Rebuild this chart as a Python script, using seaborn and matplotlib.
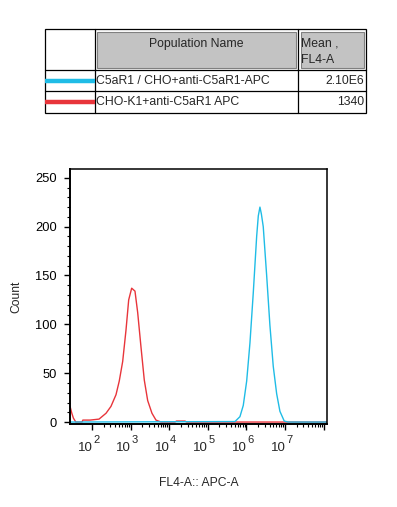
import numpy as np
import seaborn as sns
import matplotlib.pyplot as plt
import matplotlib.transforms as mtransforms
from matplotlib.patches import Rectangle
from matplotlib.ticker import FixedLocator, NullFormatter, MultipleLocator


# Values (FL4-A intensity, count)

red_fl4 = [27, 30, 33, 38, 55, 58, 89, 152, 231, 310, 419, 509, 624, 760,
           893, 1067, 1300, 1528, 1858, 2265, 2773, 3581, 4550, 6138,
           14100, 15500, 25700, 28200, 1.23e8]
red_count = [16, 9, 4, 0, 0, 2, 2, 3, 9, 16, 28, 42, 62, 94,
             125, 137, 134, 112, 77, 43, 22, 9, 2, 0,
             0, 1, 1, 0, 0]

blue_fl4 = [27, 5.07e5, 6.82e5, 8.32e5, 1.02e6, 1.24e6, 1.51e6, 1.85e6,
            2.04e6, 2.25e6, 2.45e6, 2.74e6, 3.36e6, 4.08e6, 4.98e6, 6.10e6,
            7.41e6, 9.59e6, 1.22e7, 1.23e8]
blue_count = [0, 0.5, 5.5, 17, 42, 81, 132, 190,
              211, 220, 213, 200, 150, 99, 57, 29,
              11, 1, 0, 0]

x_ticks = [1e2, 1e3, 1e4, 1e5, 1e6, 1e7]
x_tick_base = "10"
x_tick_exp = ["2", "3", "4", "5", "6", "7"]

# Legend table text
table_header = ["Population Name", "Mean ,\nFL4-A"]
pop_names = ["C5aR1 / CHO+anti-C5aR1-APC", "CHO-K1+anti-C5aR1 APC"]
pop_means = ["2.10E6", "1340"]

blue = "#1fbce6"
red = "#e8353b"
pop_colors = [blue, red]

sns.set_style("ticks")
plt.rcParams['font.family'] = ['Liberation Sans', 'DejaVu Sans']

fig = plt.figure(figsize=(3.97, 5.07), dpi=100)
ax = fig.add_axes([70 / 397, 83 / 507, 257 / 397, 255 / 507])

sns.lineplot(x=red_fl4, y=red_count, ax=ax, color=red, lw=1.0,
             estimator=None, sort=False)
sns.lineplot(x=blue_fl4, y=blue_count, ax=ax, color=blue, lw=1.0,
             estimator=None, sort=False)

ax.set_xscale('log')
ax.set_xlim(10 ** 1.43, 10 ** 8.09)
ax.set_ylim(-2, 259)

ax.xaxis.set_major_locator(FixedLocator(x_ticks + [1e8]))
ax.xaxis.set_major_formatter(NullFormatter())
minors = [m * 10 ** d for d in range(2, 8) for m in range(2, 10)]
ax.xaxis.set_minor_locator(FixedLocator(minors))
ax.xaxis.set_minor_formatter(NullFormatter())
ax.yaxis.set_major_locator(MultipleLocator(50))
ax.yaxis.set_minor_locator(MultipleLocator(10))

ax.tick_params(axis='both', which='major', direction='out', length=4.5,
               width=1.0, colors='black', labelsize=9.3, pad=5)
ax.tick_params(axis='both', which='minor', direction='out', length=2.5,
               width=0.8, colors='black')

# "10" with a high superscript, like the cytometer software draws it
base_tr = mtransforms.blended_transform_factory(ax.transData, ax.transAxes)
for t, e in zip(x_ticks, x_tick_exp):
    tr1 = mtransforms.offset_copy(base_tr, fig=fig, x=0.5, y=-27,
                                  units='dots')
    ax.text(t, 0, x_tick_base, transform=tr1, ha='right', va='baseline',
            fontsize=9.5)
    tr2 = mtransforms.offset_copy(base_tr, fig=fig, x=1, y=-19,
                                  units='dots')
    ax.text(t, 0, e, transform=tr2, ha='left', va='baseline', fontsize=8)

for side in ['left', 'bottom', 'top', 'right']:
    ax.spines[side].set_visible(True)
    ax.spines[side].set_color('black')
    ax.spines[side].set_linewidth(1.1)
ax.spines['left'].set_linewidth(1.4)
ax.spines['bottom'].set_linewidth(1.4)

ax.set_xlabel("FL4-A:: APC-A", fontsize=8.7, va='center')
ax.xaxis.set_label_coords(0.5, -0.231)
ax.set_ylabel("Count", fontsize=8.7, va='center')
ax.yaxis.set_label_coords(-0.21, 0.5)

# Table drawn in pixel coordinates on top
tab = fig.add_axes([0, 0, 1, 1])
tab.set_xlim(0, 397)
tab.set_ylim(507, 0)
tab.axis('off')

left, c1, c2, right = 45, 94.5, 298, 366
top, r1, r2, bottom = 29, 70, 91, 113

tab.add_patch(Rectangle((c1 + 2.5, top + 2.5), c2 - c1 - 5, r1 - top - 5,
                        facecolor='#c3c3c3', edgecolor='#808080', lw=0.8))
tab.add_patch(Rectangle((c2 + 2.5, top + 2.5), right - c2 - 4.5, r1 - top - 5,
                        facecolor='#c3c3c3', edgecolor='#808080', lw=0.8))
tab.add_patch(Rectangle((left, top), right - left, bottom - top,
                        facecolor='none', edgecolor='black', lw=0.9))
for yy in [r1, r2]:
    tab.plot([left, right], [yy, yy], color='black', lw=0.9)
for xx in [c1, c2]:
    tab.plot([xx, xx], [top, bottom], color='black', lw=0.9)

tab.text((c1 + c2) / 2, 44, table_header[0], ha='center', va='center',
         fontsize=8.8)
tab.text(c2 + 3, 52, table_header[1], ha='left', va='center',
         fontsize=8.8, linespacing=1.5)

row_mid = [(r1 + r2) / 2, (r2 + bottom) / 2]
for name, mean, col, ym in zip(pop_names, pop_means, pop_colors, row_mid):
    tab.plot([left, c1], [ym, ym], color=col, lw=3.2, solid_capstyle='butt')
    tab.text(c1 + 2, ym, name, ha='left', va='center', fontsize=8.8)
    tab.text(right - 2, ym, mean, ha='right', va='center', fontsize=8.8)

plt.savefig("out.png", dpi=100)
